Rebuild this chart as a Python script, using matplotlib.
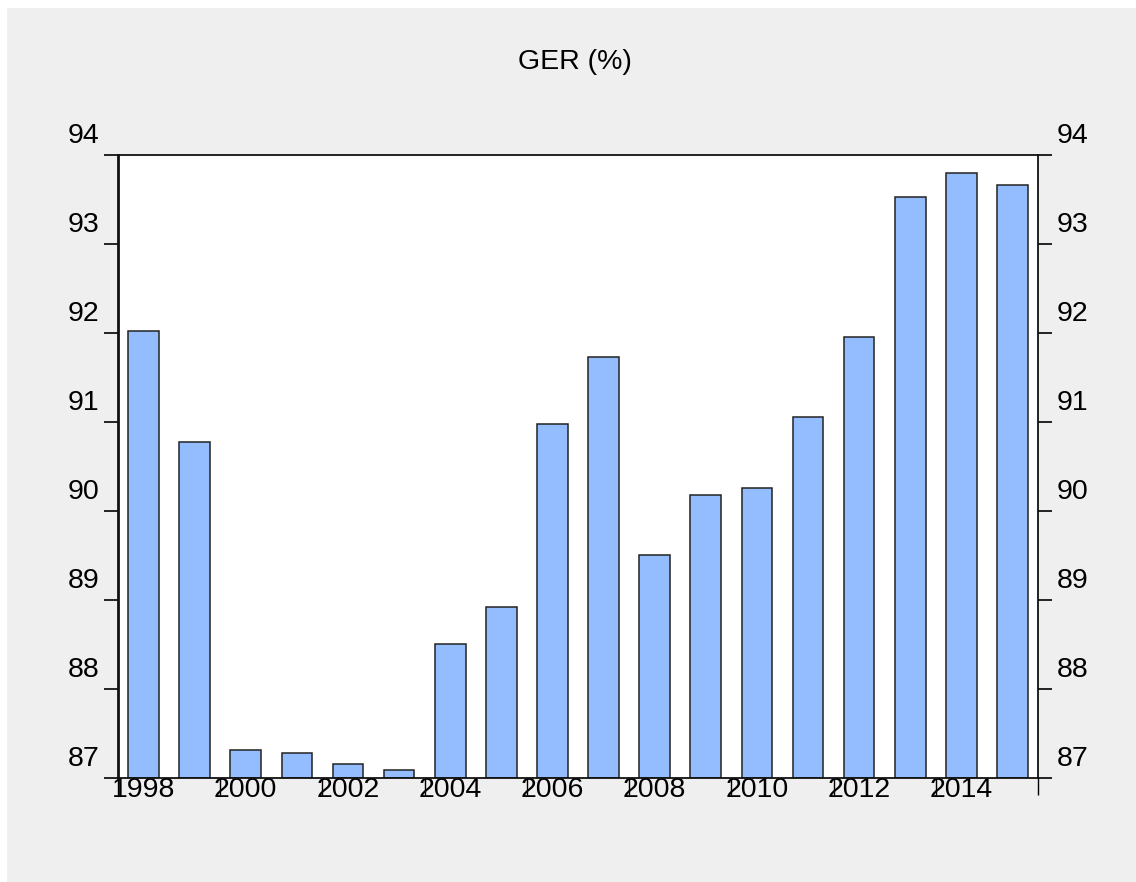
import numpy as np
import matplotlib.pyplot as plt
import matplotlib.transforms as mtransforms
from matplotlib.patches import Rectangle

# GER (%) by year
years = list(range(1998, 2016))
ger = [92.02, 90.77, 87.31, 87.28, 87.16, 87.09, 88.51, 88.92, 90.98,
       91.73, 89.51, 90.18, 90.26, 91.06, 91.96, 93.53, 93.80, 93.66]
yticks = [87, 88, 89, 90, 91, 92, 93, 94]

plt.rcParams['font.family'] = ['Liberation Sans', 'DejaVu Sans']

fig = plt.figure(figsize=(11.36, 8.82), dpi=100)
fig.patch.set_facecolor('white')
# gray panel behind the graph
fig.patches.append(Rectangle((7 / 1136, 0), 1, 1 - 8 / 882, transform=fig.transFigure,
                             facecolor='#efefef', edgecolor='none', zorder=-10))

ax = fig.add_axes([118 / 1136, 104 / 882, 920 / 1136, 623 / 882])
ax.set_facecolor('white')

x = np.arange(len(years))
ax.bar(x, np.array(ger) - 87, bottom=87, width=0.6, color='#94bdff',
       edgecolor='#222222', linewidth=1.1)

ax.set_xlim(-0.5, len(years) - 0.5)
ax.set_ylim(87, 94)

# x labels every other year, ticks on the bar boundaries
ax.set_xticks(x[::2])
ax.set_xticklabels([str(y) for y in years[::2]], fontsize=20.5)
ax.set_xticks(np.arange(-0.5, len(years), 2), minor=True)
ax.tick_params(axis='x', which='major', length=0, pad=-1)
ax.tick_params(axis='x', which='minor', length=12, width=1, direction='out')

# y axis on both sides, labels lifted above the ticks
ax.set_yticks(yticks)
ax.set_yticklabels([str(v) for v in yticks], fontsize=20.5)
ax.tick_params(axis='y', which='major', length=10, width=1.2, direction='out',
               left=True, right=True, labelleft=True, labelright=True, pad=3.5)
lift = mtransforms.ScaledTranslation(0, 22 / 100, fig.dpi_scale_trans)
for lab in ax.get_yticklabels(which='major'):
    lab.set_transform(lab.get_transform() + lift)

for s in ax.spines.values():
    s.set_linewidth(1.3)
    s.set_color('#111111')
ax.spines['left'].set_linewidth(2)

fig.text(575 / 1136, 1 - 62 / 882, 'GER (%)', ha='center', va='center', fontsize=20.5)

plt.savefig('out.png', dpi=100)
